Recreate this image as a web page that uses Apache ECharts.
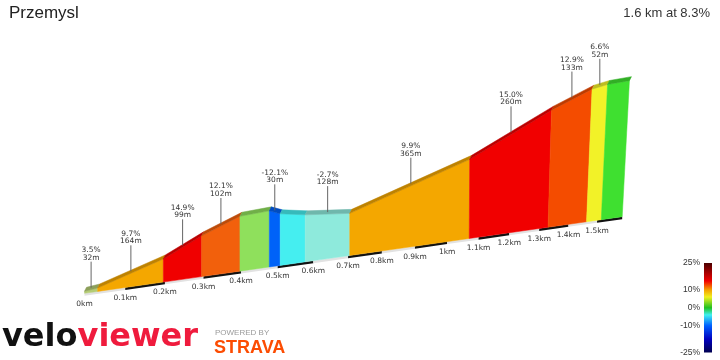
<!DOCTYPE html>
<html>
<head>
<meta charset="utf-8">
<script src="https://cdn.jsdelivr.net/npm/echarts@6/dist/echarts.min.js"></script>
<style>html,body{margin:0;padding:0;background:#fff;}#c{width:720px;height:360px;}</style>
</head>
<body>
<div id="c"></div>
<script>
// ---------- data ----------
const segEndKm  = [0.032, 0.196, 0.295, 0.397, 0.477, 0.507, 0.577, 0.705, 1.070, 1.330, 1.463, 1.515, 1.590];
const elevM     = [0, 1.1, 17.0, 31.8, 44.1, 45.7, 42.1, 38.6, 35.1, 71.2, 110.2, 127.4, 130.8, 133.0];
const gradePct  = [3.5, 9.7, 14.9, 12.1, 2.0, -12.1, -5.0, -2.7, 9.9, 15.0, 12.9, 6.6, 3.0];
const labelled  = [1, 1, 1, 1, 0, 1, 0, 1, 1, 1, 1, 1, 0];
const tickKm    = [0, 0.1, 0.2, 0.3, 0.4, 0.5, 0.6, 0.7, 0.8, 0.9, 1.0, 1.1, 1.2, 1.3, 1.4, 1.5];
const tickLabels= ['0km','0.1km','0.2km','0.3km','0.4km','0.5km','0.6km','0.7km','0.8km','0.9km','1km','1.1km','1.2km','1.3km','1.4km','1.5km'];
const legendTicks = [25, 10, 0, -10, -25];
const titleText = 'Przemysl';
const summaryText = '1.6 km at 8.3%';

// ---------- styles ----------
const segColors = ['#b4cc74','#f4a700','#f00000','#f2600c','#8fe05c','#0062f8','#45eef0','#8eeadc','#f4a700','#f10000','#f44c00','#f2f228','#3fe030'];
const legendStops = [
  [0, '#4a0000'], [0.1, '#a00000'], [0.2, '#f00000'], [0.25, '#f45000'], [0.3, '#f4a000'],
  [0.38, '#f0f020'], [0.5, '#20c020'], [0.58, '#40f0f0'], [0.7, '#0060ff'], [0.85, '#0000c0'], [1, '#000050']
];
// perspective view parameters
const VIEW = {x0: 84.5, kx: 413.3, px: 0.1397, y0: 293.5, xb: 83, slope: 0.1425,
  hBase: 2, ky: 1.28, py: 0.17, tiltStart: 1.0, tiltK: 0.09, stripDx: 2, stripDy: -4};

function darken(hex, f) {
  const n = parseInt(hex.slice(1), 16);
  const r = Math.round(((n >> 16) & 255) * f), g = Math.round(((n >> 8) & 255) * f), b = Math.round((n & 255) * f);
  return 'rgb(' + r + ',' + g + ',' + b + ')';
}
function frontX(d) { return VIEW.x0 + VIEW.kx * d / (1 + VIEW.px * d); }
function baseP(d) { const x = frontX(d); return [x, VIEW.y0 - VIEW.slope * (x - VIEW.xb)]; }
function topP(d, e) {
  const b = baseP(d);
  const h = VIEW.hBase + e * VIEW.ky / (1 + VIEW.py * d);
  const t = Math.max(0, d - VIEW.tiltStart) * VIEW.tiltK;
  return [b[0] + h * t, b[1] - h];
}
function segStart(i) { return i === 0 ? 0 : segEndKm[i - 1]; }

const chart = echarts.init(document.getElementById('c'), null, {renderer: 'canvas'});
const idx = segEndKm.map((d, i) => [i]);
const totalKm = segEndKm[segEndKm.length - 1];
const bandIdx = tickKm.map((d, i) => [i]);

const option = {
  backgroundColor: '#fff',
  animation: false,
  title: [
    {text: titleText, left: 9, top: 5, padding: 0, textStyle: {fontFamily: 'Liberation Sans', fontSize: 17, fontWeight: 'normal', color: '#222'}},
    {text: summaryText, right: 10, top: 7, padding: 0, textStyle: {fontFamily: 'Liberation Sans', fontSize: 13, fontWeight: 'normal', color: '#333'}}
  ],
  grid: [
    {left: 0, top: 0, width: 720, height: 360},
    {left: 704, top: 263, width: 8, height: 89.5}
  ],
  xAxis: [
    {gridIndex: 0, type: 'value', min: 0, max: 720, show: false},
    {gridIndex: 1, type: 'value', min: 0, max: 1, show: false}
  ],
  yAxis: [
    {gridIndex: 0, type: 'value', min: 0, max: 360, inverse: true, show: false},
    {gridIndex: 1, type: 'value', min: -25, max: 25, interval: 5,
      axisLine: {show: false}, axisTick: {show: false}, splitLine: {show: false},
      axisLabel: {show: true, margin: 4, fontSize: 8.5, color: '#333', fontFamily: 'Liberation Sans',
        formatter: v => legendTicks.indexOf(v) >= 0 ? v + '%' : ''}}
  ],
  graphic: [
    {type: 'text', left: 2, top: 322, style: {text: '{a|velo}{b|viewer}',
      rich: {a: {fontFamily: 'DejaVu Sans', fontWeight: 'bold', fontSize: 32, fill: '#111'},
             b: {fontFamily: 'DejaVu Sans', fontWeight: 'bold', fontSize: 32, fill: '#ef1b3d'}}}},
    {type: 'text', left: 215, top: 329, style: {text: 'POWERED BY', font: '8px "Liberation Sans"', fill: '#9a9a9a'}},
    {type: 'text', left: 214, top: 339, style: {text: 'STRAVA', font: 'bold 18px "Liberation Sans"', fill: '#fc4c02'}}
  ],
  series: [
    { // base band with alternating dashes
      type: 'custom', xAxisIndex: 0, yAxisIndex: 0, data: bandIdx, silent: true,
      renderItem: (params, api) => {
        const i = api.value(0);
        const d0 = tickKm[i], d1 = Math.min(i + 1 < tickKm.length ? tickKm[i + 1] : totalKm, totalKm);
        const a = baseP(d0), b = baseP(d1);
        const pts = [a, b, [b[0], b[1] + 2.5], [a[0], a[1] + 2.5]].map(p => api.coord(p));
        return {type: 'polygon', shape: {points: pts}, style: {fill: i % 2 === 1 ? '#111' : '#e2e2e2'}};
      }
    },
    { // front faces + top strips
      type: 'custom', xAxisIndex: 0, yAxisIndex: 0, data: idx, silent: true,
      renderItem: (params, api) => {
        const i = api.value(0);
        const d0 = segStart(i), d1 = segEndKm[i];
        const b0 = baseP(d0), b1 = baseP(d1), t0 = topP(d0, elevM[i]), t1 = topP(d1, elevM[i + 1]);
        const face = [b0, t0, t1, b1].map(p => api.coord(p));
        const s0 = [t0[0] + VIEW.stripDx, t0[1] + VIEW.stripDy], s1 = [t1[0] + VIEW.stripDx, t1[1] + VIEW.stripDy];
        const strip = [t0, s0, s1, t1].map(p => api.coord(p));
        return {type: 'group', children: [
          {type: 'polygon', shape: {points: face}, style: {fill: segColors[i], stroke: segColors[i], lineWidth: 0.5}},
          {type: 'polygon', shape: {points: strip}, style: {fill: darken(segColors[i], 0.78), stroke: darken(segColors[i], 0.78), lineWidth: 0.5}}
        ]};
      }
    },
    { // km labels
      type: 'custom', xAxisIndex: 0, yAxisIndex: 0, data: bandIdx, silent: true,
      renderItem: (params, api) => {
        const i = api.value(0);
        const b = baseP(tickKm[i]);
        const p = api.coord([b[0], b[1] + 10.5]);
        return {type: 'text', x: p[0], y: p[1], style: {text: tickLabels[i], font: '7.5px "DejaVu Sans"', fill: '#333', textAlign: 'center', textVerticalAlign: 'middle'}};
      }
    },
    { // segment annotations
      type: 'custom', xAxisIndex: 0, yAxisIndex: 0, data: idx, silent: true,
      renderItem: (params, api) => {
        const i = api.value(0);
        if (!labelled[i]) return null;
        const d0 = segStart(i), d1 = segEndKm[i];
        const dm = (d0 + d1) / 2, em = (elevM[i] + elevM[i + 1]) / 2;
        const t = topP(dm, em);
        const lenM = Math.round((d1 - d0) * 1000) + 'm';
        const g = gradePct[i].toFixed(1) + '%';
        const l0 = api.coord([t[0], t[1] - 28]), l1 = api.coord([t[0], t[1] - 2]);
        const p1 = api.coord([t[0], t[1] - 39.5]), p2 = api.coord([t[0], t[1] - 32]);
        const font = '7.5px "DejaVu Sans"';
        return {type: 'group', children: [
          {type: 'line', shape: {x1: l0[0], y1: l0[1], x2: l1[0], y2: l1[1]}, style: {stroke: '#666', lineWidth: 1}},
          {type: 'text', x: p1[0], y: p1[1], style: {text: g, font: font, fill: '#333', textAlign: 'center', textVerticalAlign: 'middle'}},
          {type: 'text', x: p2[0], y: p2[1], style: {text: lenM, font: font, fill: '#333', textAlign: 'center', textVerticalAlign: 'middle'}}
        ]};
      }
    },
    { // colour legend bar
      type: 'custom', xAxisIndex: 1, yAxisIndex: 1, data: [[0]], silent: true,
      renderItem: (params, api) => {
        const a = api.coord([0, 25]), b = api.coord([1, -25]);
        return {type: 'rect', shape: {x: a[0], y: a[1], width: b[0] - a[0], height: b[1] - a[1]},
          style: {fill: new echarts.graphic.LinearGradient(0, 0, 0, 1, legendStops.map(s => ({offset: s[0], color: s[1]})))}};
      }
    }
  ]
};
chart.setOption(option);
</script>
</body>
</html>
